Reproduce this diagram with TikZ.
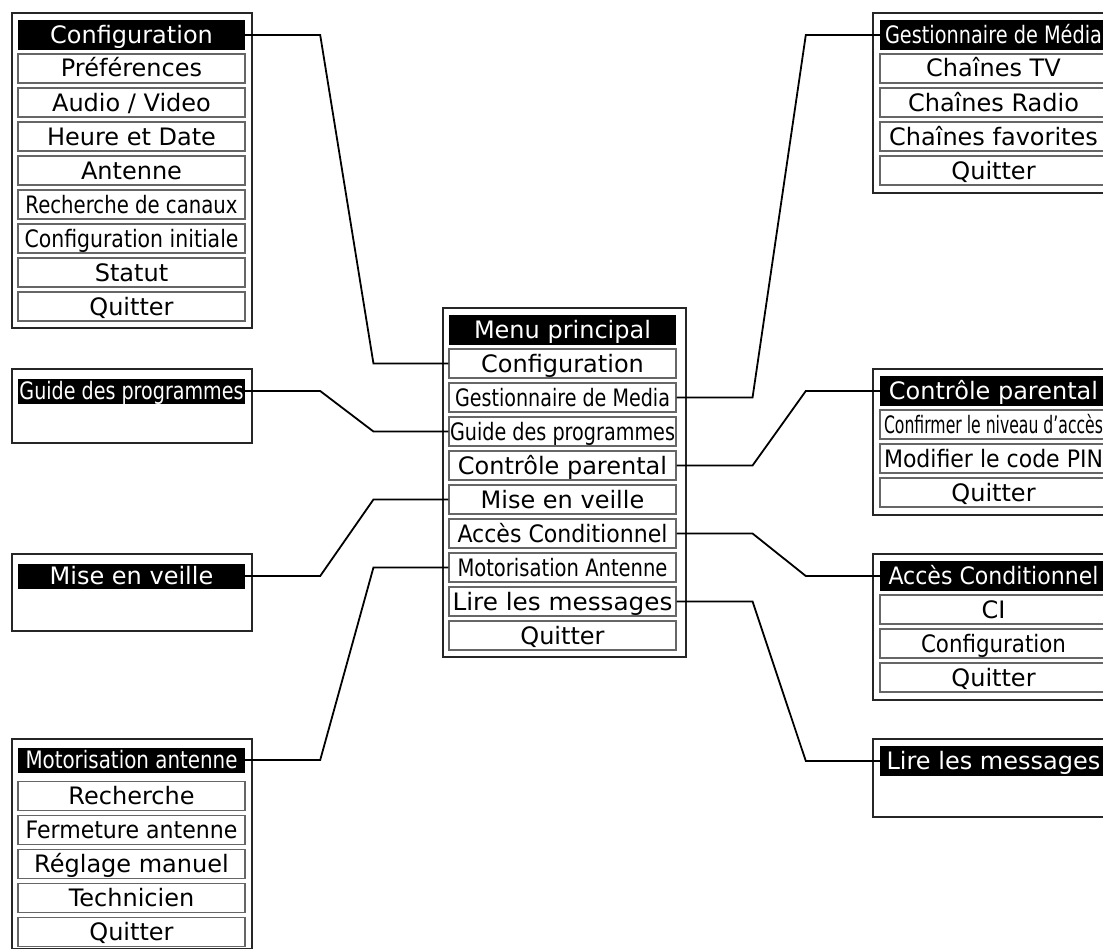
\documentclass[tikz,border=0pt]{standalone}
\usepackage{fontspec}
\usepackage{graphicx}
\setmainfont{DejaVu Sans}
\usetikzlibrary{calc}
\newcommand\menufont{\fontsize{24pt}{28pt}\selectfont}
\newcommand\fitw[2]{\resizebox{#1}{\height}{#2}}
\begin{document}
\begin{tikzpicture}[x=1pt,y=-1pt,
  framebox/.style={draw=black!85,line width=1.5pt},
  rowbox/.style={draw=black!60,line width=1.1pt,minimum width=227pt,minimum height=29pt,inner sep=0pt,font=\menufont,text height=17pt,text depth=0pt},
  barbox/.style={fill=black,text=white,minimum width=227pt,minimum height=30pt,inner sep=0pt,font=\menufont,text height=17pt,text depth=0pt},
  shortbar/.style={barbox,minimum height=25pt},
  link/.style={line width=1.8pt,black}]
\useasboundingbox (0,0) rectangle (1103,950);
\fill[white] (0,0) rectangle (1103,950);

% ---------- frames ----------
\draw[framebox] (12,13) rectangle (252,328);     % Configuration
\draw[framebox] (12,369) rectangle (252,443);    % Guide
\draw[framebox] (12,554) rectangle (252,631);    % Mise en veille
\draw[framebox] (12,739) rectangle (252,948.5);  % Motorisation
\draw[framebox] (443,308) rectangle (686,657);   % Menu principal
\draw[framebox] (873,13) rectangle (1113,193);   % Gestionnaire
\draw[framebox] (873,369) rectangle (1113,515);  % Controle parental
\draw[framebox] (873,554) rectangle (1113,700);  % Acces conditionnel
\draw[framebox] (873,739) rectangle (1113,817);  % Lire les messages

% ---------- Configuration ----------
\node[barbox] (cfgT) at (131.5,35) {Configuration};
\node[rowbox] (cfg1) at (131.5,68.5) {Préférences};
\node[rowbox] (cfg2) at (131.5,102.5) {Audio / Video};
\node[rowbox] (cfg3) at (131.5,136.5) {Heure et Date};
\node[rowbox] (cfg4) at (131.5,170.5) {Antenne};
\node[rowbox] (cfg5) at (131.5,204.5) {\fitw{212pt}{Recherche de canaux}};
\node[rowbox] (cfg6) at (131.5,238.5) {\fitw{214pt}{Configuration initiale}};
\node[rowbox] (cfg7) at (131.5,272.5) {Statut};
\node[rowbox] (cfg8) at (131.5,306.5) {Quitter};

% ---------- Guide ----------
\node[shortbar] (gpT) at (131.5,391) {\fitw{224pt}{Guide des programmes}};

% ---------- Mise en veille ----------
\node[shortbar] (mvT) at (131.5,576) {Mise en veille};

% ---------- Motorisation ----------
\node[shortbar] (moT) at (131.5,760) {\fitw{212pt}{Motorisation antenne}};
\node[rowbox] (mo1) at (131.5,796) {Recherche};
\node[rowbox] (mo2) at (131.5,830) {\fitw{212pt}{Fermeture antenne}};
\node[rowbox] (mo3) at (131.5,864) {Réglage manuel};
\node[rowbox] (mo4) at (131.5,898) {Technicien};
\node[rowbox] (mo5) at (131.5,932) {Quitter};

% ---------- Menu principal ----------
\node[barbox] (mT) at (562.5,330) {Menu principal};
\node[rowbox] (m1) at (562.5,363.5) {Configuration};
\node[rowbox] (m2) at (562.5,397.5) {\fitw{215pt}{Gestionnaire de Media}};
\node[rowbox] (m3) at (562.5,431.5) {\fitw{225pt}{Guide des programmes}};
\node[rowbox] (m4) at (562.5,465.5) {Contrôle parental};
\node[rowbox] (m5) at (562.5,499.5) {Mise en veille};
\node[rowbox] (m6) at (562.5,533.5) {\fitw{210pt}{Accès Conditionnel}};
\node[rowbox] (m7) at (562.5,567.5) {\fitw{210pt}{Motorisation Antenne}};
\node[rowbox] (m8) at (562.5,601.5) {\fitw{220pt}{Lire les messages}};
\node[rowbox] (m9) at (562.5,635.5) {Quitter};

% ---------- Gestionnaire de Media ----------
\node[barbox] (gmT) at (993.5,35) {\fitw{217pt}{Gestionnaire de Média}};
\node[rowbox] (gm1) at (993.5,68.5) {Chaînes TV};
\node[rowbox] (gm2) at (993.5,102.5) {Chaînes Radio};
\node[rowbox] (gm3) at (993.5,136.5) {Chaînes favorites};
\node[rowbox] (gm4) at (993.5,170.5) {Quitter};

% ---------- Controle parental ----------
\node[barbox] (cpT) at (993.5,391) {Contrôle parental};
\node[rowbox] (cp1) at (993.5,424.5) {\fitw{219pt}{Confirmer le niveau d’accès}};
\node[rowbox] (cp2) at (993.5,458.5) {\fitw{219pt}{Modifier le code PIN}};
\node[rowbox] (cp3) at (993.5,492.5) {Quitter};

% ---------- Acces Conditionnel ----------
\node[barbox] (acT) at (993.5,576) {\fitw{210pt}{Accès Conditionnel}};
\node[rowbox] (ac1) at (993.5,609.5) {CI};
\node[rowbox] (ac2) at (993.5,643.5) {\fitw{145pt}{Configuration}};
\node[rowbox] (ac3) at (993.5,677.5) {Quitter};

% ---------- Lire les messages ----------
\node[barbox] (lmT) at (993.5,761) {\fitw{214pt}{Lire les messages}};

% ---------- connectors ----------
\draw[link] (m1.west) -- ++(-75,0) -- ($(cfgT.east)+(75,0)$) -- (cfgT.east);
\draw[link] (m3.west) -- ++(-75,0) -- ($(gpT.east)+(75,0)$) -- (gpT.east);
\draw[link] (m5.west) -- ++(-75,0) -- ($(mvT.east)+(75,0)$) -- (mvT.east);
\draw[link] (m7.west) -- ++(-75,0) -- ($(moT.east)+(75,0)$) -- (moT.east);
\draw[link] (m2.east) -- ++(76,0) -- ($(gmT.west)+(-74,0)$) -- (gmT.west);
\draw[link] (m4.east) -- ++(76,0) -- ($(cpT.west)+(-74,0)$) -- (cpT.west);
\draw[link] (m6.east) -- ++(76,0) -- ($(acT.west)+(-74,0)$) -- (acT.west);
\draw[link] (m8.east) -- ++(76,0) -- ($(lmT.west)+(-74,0)$) -- (lmT.west);
\end{tikzpicture}
\end{document}
